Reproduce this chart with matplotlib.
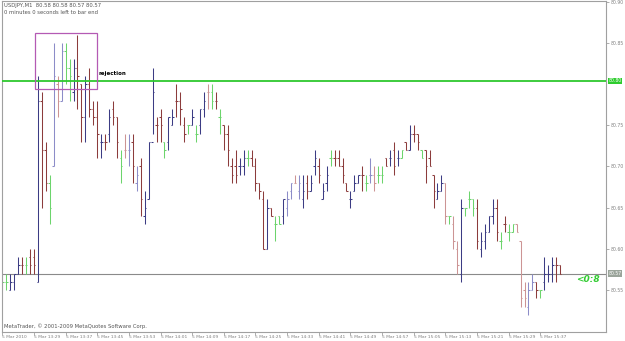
import matplotlib
matplotlib.use("Agg")
import matplotlib.pyplot as plt
from matplotlib.patches import Rectangle

# USDJPY M1 bars, 5 Mar 2010, first bar 13:21
highs = [
	80.57, 80.57, 80.57, 80.57, 80.59, 80.59, 80.59, 80.60, 80.60, 80.81,
	80.79, 80.73, 80.69, 80.85, 80.81, 80.85, 80.85, 80.83, 80.83, 80.86,
	80.80, 80.81, 80.82, 80.78, 80.78, 80.74, 80.74, 80.77, 80.78, 80.76,
	80.72, 80.74, 80.74, 80.74, 80.70, 80.71, 80.67, 80.73, 80.82, 80.76,
	80.77, 80.73, 80.76, 80.77, 80.80, 80.79, 80.76, 80.75, 80.77, 80.75,
	80.77, 80.79, 80.80, 80.80, 80.79, 80.77, 80.75, 80.75, 80.71, 80.72,
	80.71, 80.72, 80.72, 80.72, 80.71, 80.68, 80.67, 80.66, 80.65, 80.64,
	80.64, 80.66, 80.67, 80.68, 80.69, 80.69, 80.69, 80.69, 80.69, 80.72,
	80.71, 80.68, 80.70, 80.72, 80.72, 80.72, 80.71, 80.68, 80.67, 80.69,
	80.69, 80.70, 80.69, 80.71, 80.70, 80.70, 80.70, 80.71, 80.72, 80.73,
	80.72, 80.72, 80.73, 80.75, 80.75, 80.74, 80.72, 80.72, 80.72, 80.69,
	80.68, 80.69, 80.68, 80.64, 80.64, 80.61, 80.66, 80.65, 80.67, 80.66,
	80.66, 80.62, 80.63, 80.64, 80.66, 80.66, 80.62, 80.64, 80.63, 80.63,
	80.63, 80.61, 80.56, 80.56, 80.57, 80.56, 80.55, 80.59, 80.58, 80.59,
	80.59, 80.58,
]
lows = [
	80.55, 80.55, 80.55, 80.55, 80.57, 80.57, 80.57, 80.57, 80.57, 80.56,
	80.65, 80.67, 80.63, 80.70, 80.76, 80.78, 80.80, 80.78, 80.78, 80.77,
	80.73, 80.73, 80.76, 80.75, 80.71, 80.71, 80.72, 80.73, 80.75, 80.71,
	80.68, 80.71, 80.70, 80.68, 80.67, 80.64, 80.63, 80.66, 80.74, 80.73,
	80.73, 80.71, 80.72, 80.75, 80.76, 80.75, 80.73, 80.74, 80.75, 80.73,
	80.74, 80.76, 80.77, 80.77, 80.77, 80.74, 80.72, 80.70, 80.68, 80.68,
	80.69, 80.69, 80.70, 80.70, 80.67, 80.66, 80.60, 80.60, 80.64, 80.61,
	80.63, 80.63, 80.64, 80.66, 80.68, 80.66, 80.65, 80.66, 80.67, 80.69,
	80.68, 80.66, 80.67, 80.70, 80.70, 80.70, 80.68, 80.67, 80.65, 80.67,
	80.68, 80.67, 80.67, 80.68, 80.67, 80.68, 80.68, 80.70, 80.70, 80.69,
	80.70, 80.71, 80.72, 80.72, 80.73, 80.72, 80.71, 80.68, 80.70, 80.65,
	80.66, 80.67, 80.63, 80.63, 80.60, 80.57, 80.56, 80.64, 80.65, 80.64,
	80.60, 80.59, 80.60, 80.62, 80.63, 80.61, 80.60, 80.62, 80.61, 80.62,
	80.62, 80.53, 80.53, 80.52, 80.55, 80.54, 80.54, 80.55, 80.56, 80.56,
	80.56, 80.57,
]
opens = [
	80.56, 80.56, 80.55, 80.56, 80.57, 80.58, 80.58, 80.59, 80.59, 80.56,
	80.78, 80.72, 80.68, 80.70, 80.80, 80.78, 80.84, 80.82, 80.79, 80.82,
	80.80, 80.76, 80.80, 80.77, 80.76, 80.73, 80.73, 80.74, 80.77, 80.76,
	80.71, 80.72, 80.72, 80.73, 80.68, 80.70, 80.64, 80.66, 80.73, 80.75,
	80.76, 80.73, 80.73, 80.75, 80.78, 80.78, 80.75, 80.75, 80.75, 80.74,
	80.75, 80.77, 80.79, 80.79, 80.78, 80.76, 80.75, 80.74, 80.70, 80.70,
	80.70, 80.70, 80.71, 80.71, 80.70, 80.68, 80.66, 80.60, 80.65, 80.63,
	80.64, 80.64, 80.65, 80.67, 80.68, 80.67, 80.66, 80.68, 80.67, 80.70,
	80.70, 80.66, 80.68, 80.71, 80.71, 80.71, 80.70, 80.68, 80.66, 80.67,
	80.68, 80.69, 80.68, 80.69, 80.69, 80.69, 80.69, 80.71, 80.71, 80.72,
	80.71, 80.71, 80.73, 80.72, 80.74, 80.74, 80.72, 80.72, 80.71, 80.69,
	80.66, 80.67, 80.68, 80.64, 80.63, 80.60, 80.57, 80.65, 80.66, 80.66,
	80.65, 80.60, 80.61, 80.62, 80.64, 80.65, 80.61, 80.63, 80.62, 80.62,
	80.63, 80.61, 80.55, 80.53, 80.55, 80.56, 80.55, 80.56, 80.57, 80.57,
	80.58, 80.58,
]
closes = [
	80.56, 80.56, 80.56, 80.57, 80.58, 80.58, 80.58, 80.58, 80.58, 80.78,
	80.72, 80.68, 80.65, 80.81, 80.78, 80.84, 80.82, 80.81, 80.82, 80.81,
	80.76, 80.80, 80.77, 80.76, 80.74, 80.73, 80.73, 80.76, 80.76, 80.73,
	80.70, 80.72, 80.72, 80.70, 80.69, 80.66, 80.65, 80.73, 80.79, 80.75,
	80.75, 80.72, 80.76, 80.76, 80.78, 80.77, 80.74, 80.75, 80.76, 80.74,
	80.77, 80.78, 80.79, 80.78, 80.78, 80.76, 80.74, 80.72, 80.69, 80.69,
	80.70, 80.71, 80.71, 80.70, 80.68, 80.67, 80.60, 80.65, 80.64, 80.63,
	80.63, 80.66, 80.66, 80.68, 80.68, 80.68, 80.67, 80.67, 80.68, 80.71,
	80.69, 80.67, 80.69, 80.71, 80.71, 80.70, 80.69, 80.67, 80.66, 80.68,
	80.69, 80.69, 80.68, 80.69, 80.68, 80.69, 80.69, 80.70, 80.71, 80.70,
	80.71, 80.72, 80.72, 80.74, 80.74, 80.73, 80.71, 80.70, 80.70, 80.67,
	80.67, 80.68, 80.64, 80.64, 80.61, 80.58, 80.65, 80.65, 80.66, 80.65,
	80.61, 80.61, 80.62, 80.64, 80.65, 80.62, 80.61, 80.63, 80.62, 80.63,
	80.62, 80.54, 80.54, 80.55, 80.56, 80.55, 80.55, 80.57, 80.57, 80.58,
	80.58, 80.57,
]
# indicator state per bar: N navy, B brown, G green, L lavender, P pink
bar_state = (
	"GGNNNBGBBNBBGLPLGGNBBNBBBNBNBBGPLBLBNN"
	"NBBGNNBBBGNGNNPGBGBBBBNNGBBBBNBGGNLLP"
	"LNBNNBNNGBBBBNNNBGLPGGBNBNGBNBBGBBBNN"
	"PGPPNGGGBNNNNBGBGGPPPLLBGNNNBB"
)
time_labels = [
	"5 Mar 2010", "5 Mar 13:29", "5 Mar 13:37", "5 Mar 13:45", "5 Mar 13:53",
	"5 Mar 14:01", "5 Mar 14:09", "5 Mar 14:17", "5 Mar 14:25", "5 Mar 14:33",
	"5 Mar 14:41", "5 Mar 14:49", "5 Mar 14:57", "5 Mar 15:05", "5 Mar 15:13",
	"5 Mar 15:21", "5 Mar 15:29", "5 Mar 15:37",
]
price_ticks = [80.90, 80.85, 80.75, 80.70, 80.65, 80.60, 80.55]
level_price = 80.804
bid_price = 80.57
box_bars = (8.3, 24.0)
box_prices = (80.794, 80.862)

state_colors = {"N": "#3c3c84", "B": "#8c3c3c", "G": "#6cd46c", "L": "#8c8cc8", "P": "#cc9494"}
grey = "#808080"

fig = plt.figure(figsize=(6.25, 3.41), dpi=100)
ax = fig.add_axes([1.7 / 625, 9.3 / 341, 604.3 / 625, 330.7 / 341])
ax.set_xlim(-0.15, 152.6)
ax.set_ylim(80.4995, 80.9008)

n = len(highs)
xs = list(range(n))
cols = [state_colors[s] for s in bar_state[:n]]
ax.vlines(xs, lows, highs, colors=cols, linewidth=0.75)
ax.hlines(opens, [x - 0.35 for x in xs], xs, colors=cols, linewidth=0.75)
ax.hlines(closes, xs, [x + 0.35 for x in xs], colors=cols, linewidth=0.75)

ax.axhline(bid_price, color="#8a8a8a", linewidth=0.8, zorder=1)
ax.axhline(level_price, color="#2ec82e", linewidth=1.3, zorder=3)
ax.add_patch(Rectangle((box_bars[0], box_prices[0]), box_bars[1] - box_bars[0],
	box_prices[1] - box_prices[0], fill=False, edgecolor="#b45ab4", linewidth=0.9, zorder=4))
ax.text(24.3, 80.81, "rejection", fontsize=4.0, color="black", fontweight="bold", va="bottom")

for sp in ax.spines.values():
	sp.set_color("#a0a0a0")
	sp.set_linewidth(0.8)
ax.yaxis.tick_right()
ax.set_yticks(price_ticks)
ax.set_yticklabels([f"{p:.2f}" for p in price_ticks])
ax.tick_params(axis="y", length=2, width=0.6, colors="#a0a0a0", labelcolor=grey, labelsize=3.3, pad=1.2)
ax.set_xticks([i * 8 for i in range(len(time_labels))])
ax.set_xticklabels(time_labels, ha="left")
ax.tick_params(axis="x", length=2, width=0.6, colors="#a0a0a0", labelcolor=grey, labelsize=3.2, pad=0.5)

# price boxes on the right scale
ax.text(1.004, (level_price - 80.4995) / 0.4013, "80.80", transform=ax.transAxes, fontsize=3.3,
	color="white", va="center", ha="left", bbox=dict(boxstyle="square,pad=0.15", fc="#2ecc2e", ec="none"))
ax.text(1.004, (bid_price - 80.4995) / 0.4013, "80.57", transform=ax.transAxes, fontsize=3.3,
	color="white", va="center", ha="left", bbox=dict(boxstyle="square,pad=0.15", fc="#9aa49a", ec="none"))

ax.text(145, 80.563, "<0:8", fontsize=6.5, color="#33cc33", fontstyle="italic", fontweight="bold", va="center")
fig.text(4 / 625, 1 - 5 / 341, "USDJPY,M1  80.58 80.58 80.57 80.57", fontsize=3.8, color="#555555", va="center")
fig.text(4 / 625, 1 - 12 / 341, "0 minutes 0 seconds left to bar end", fontsize=3.8, color="#555555", va="center")
fig.text(4 / 625, 1 - 326 / 341, "MetaTrader, \u00a9 2001-2009 MetaQuotes Software Corp.", fontsize=3.8,
	color="#555555", va="center")

fig.savefig("out.png", dpi=100)
